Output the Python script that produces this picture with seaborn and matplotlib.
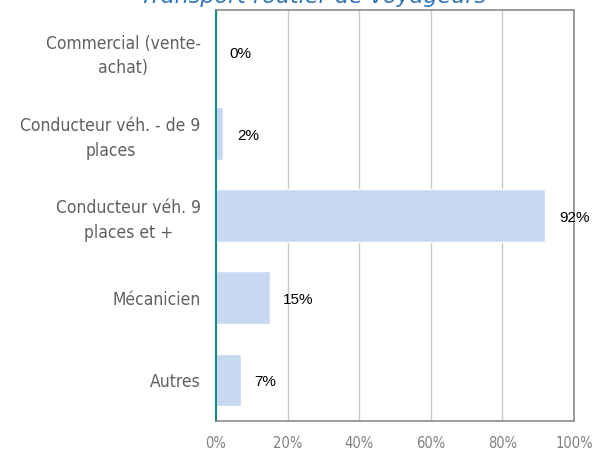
import matplotlib
matplotlib.use("Agg")
import matplotlib.pyplot as plt
import seaborn as sns
import pandas as pd

categories = ["Commercial (vente-\nachat)", "Conducteur véh. - de 9\nplaces",
              "Conducteur véh. 9\nplaces et +", "Mécanicien", "Autres"]
values = [0, 2, 92, 15, 7]
x_ticks = [0, 20, 40, 60, 80, 100]
x_tick_labels = ["0%", "20%", "40%", "60%", "80%", "100%"]
title = "Transport routier de voyageurs"

df = pd.DataFrame({"cat": categories, "val": values})

sns.set_theme(style="white")
plt.rcParams["font.family"] = ["DejaVu Sans"]

fig = plt.figure(figsize=(5.95, 4.53), dpi=100)
ax = fig.add_axes([216 / 595, 1 - 421 / 453, (574 - 216) / 595, (421 - 10) / 453])

sns.barplot(data=df, x="val", y="cat", ax=ax, color="#c6d9f0", width=0.64,
            saturation=1, orient="h")

ax.set_xlim(0, 100)
ax.set_xticks(x_ticks)
ax.set_xticklabels(x_tick_labels, fontsize=10.5, color="#808080",
                   fontstretch="condensed")
ax.tick_params(axis="x", pad=11, length=0)
ax.tick_params(axis="y", length=0, pad=11)
for lab in ax.get_yticklabels():
    lab.set_fontsize(12.5)
    lab.set_color("#606060")
    lab.set_fontstretch("condensed")
    lab.set_multialignment("center")
    lab.set_linespacing(1.45)
ax.set_xlabel("")
ax.set_ylabel("")
ax.xaxis.grid(True, color="#c8c8c8", linewidth=1)
ax.set_axisbelow(True)

for i, v in enumerate(values):
    ax.text(v + 3.8, i + 0.03, f"{v}%", va="center", ha="left",
            fontsize=11, color="black", family="Liberation Sans")

ax.spines["left"].set_color("#1a8a80")
ax.spines["left"].set_linewidth(1.5)
for s in ["top", "right", "bottom"]:
    ax.spines[s].set_color("#8c8c8c")
    ax.spines[s].set_linewidth(1.2)

fig.text(313 / 595, 1 + 3 / 453, title, ha="center", va="center",
         fontsize=16, style="italic", color="#2e75b6")

fig.savefig("out.png", dpi=100)
